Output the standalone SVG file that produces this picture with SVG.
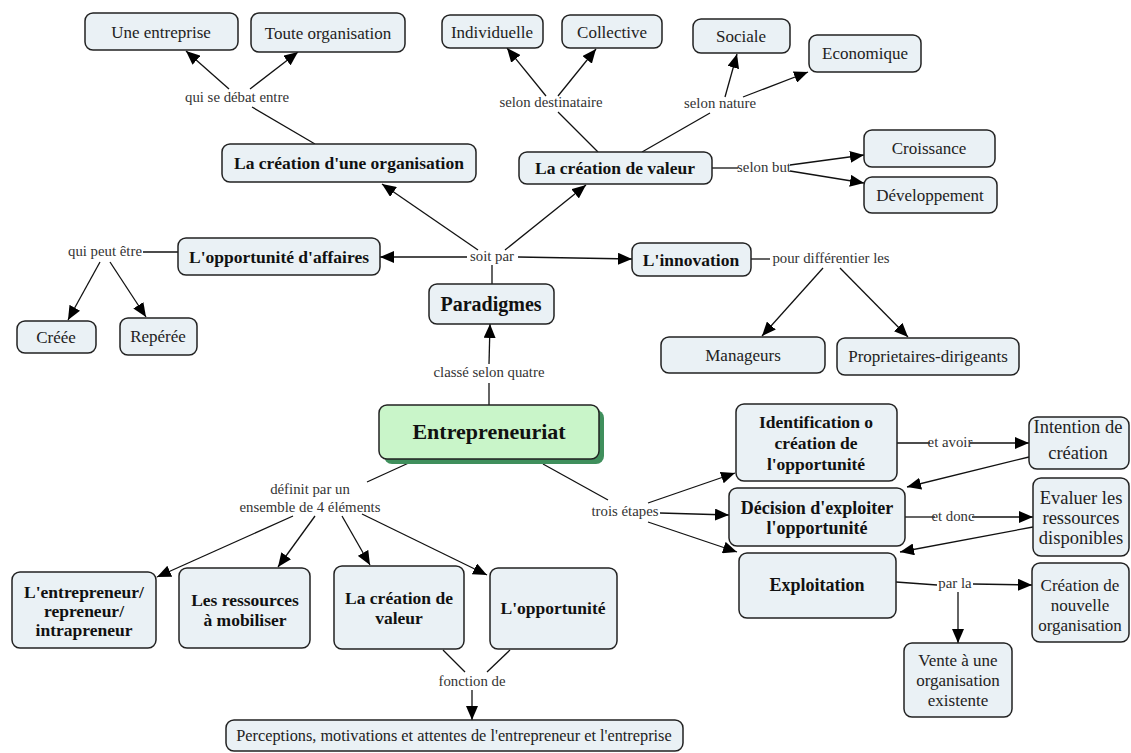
<svg xmlns="http://www.w3.org/2000/svg" width="1131" height="753" viewBox="0 0 1131 753">
<defs>
<marker id="arr" markerUnits="userSpaceOnUse" markerWidth="15" markerHeight="12" refX="14" refY="6" orient="auto">
<path d="M0,0 L14,6 L0,12 z" fill="#000"/>
</marker>
<style>
.n rect{fill:#eaf1f5;stroke:#222;stroke-width:1.5}
.n text{font-family:"Liberation Serif","DejaVu Serif",serif;font-size:17px;fill:#222;text-anchor:middle}
.b text{font-weight:bold;font-size:17.5px;fill:#111}
.lbl{font-family:"Liberation Serif","DejaVu Serif",serif;font-size:14.8px;fill:#333;text-anchor:middle}
#connectors line{stroke:#111;stroke-width:1.3}
#connectors line.a{marker-end:url(#arr)}
</style>
</defs>
<rect width="1131" height="753" fill="#fff"/>

<g id="connectors">
<line x1="252" y1="107" x2="315" y2="144"/>
<line class="a" x1="229" y1="89" x2="186" y2="51"/>
<line class="a" x1="250" y1="89" x2="298" y2="52"/>
<line x1="598" y1="152" x2="558" y2="112"/>
<line class="a" x1="546" y1="96" x2="507" y2="48"/>
<line class="a" x1="558" y1="96" x2="596" y2="49"/>
<line x1="642" y1="152" x2="710" y2="113"/>
<line class="a" x1="725" y1="97" x2="737" y2="54"/>
<line class="a" x1="743" y1="97" x2="808" y2="72"/>
<line x1="712" y1="168" x2="738" y2="168"/>
<line class="a" x1="790" y1="165" x2="864" y2="155"/>
<line class="a" x1="790" y1="171" x2="864" y2="183"/>
<line x1="492" y1="265" x2="492" y2="284"/>
<line class="a" x1="478" y1="250" x2="382" y2="184"/>
<line class="a" x1="505" y1="250" x2="586" y2="185"/>
<line class="a" x1="467" y1="257" x2="380" y2="257"/>
<line class="a" x1="518" y1="257" x2="632" y2="259"/>
<line x1="143" y1="252" x2="178" y2="252"/>
<line class="a" x1="100" y1="262" x2="68" y2="320"/>
<line class="a" x1="110" y1="262" x2="146" y2="317"/>
<line x1="751" y1="259" x2="770" y2="259"/>
<line class="a" x1="823" y1="268" x2="762" y2="336"/>
<line class="a" x1="840" y1="268" x2="908" y2="337"/>
<line x1="489" y1="405" x2="489" y2="383"/>
<line class="a" x1="489" y1="364" x2="490" y2="324"/>
<line x1="413" y1="461" x2="367" y2="482"/>
<line class="a" x1="293" y1="516" x2="157" y2="577"/>
<line class="a" x1="315" y1="516" x2="278" y2="567"/>
<line class="a" x1="342" y1="516" x2="370" y2="565"/>
<line class="a" x1="362" y1="514" x2="487" y2="575"/>
<line x1="543" y1="464" x2="608" y2="500"/>
<line class="a" x1="648" y1="503" x2="735" y2="473"/>
<line class="a" x1="660" y1="513" x2="729" y2="515"/>
<line class="a" x1="648" y1="522" x2="737" y2="552"/>
<line x1="897" y1="443" x2="930" y2="443"/>
<line class="a" x1="970" y1="443" x2="1029" y2="443"/>
<line class="a" x1="1029" y1="457" x2="907" y2="487"/>
<line x1="905" y1="517" x2="935" y2="517"/>
<line class="a" x1="972" y1="517" x2="1033" y2="517"/>
<line class="a" x1="1033" y1="527" x2="900" y2="552"/>
<line x1="896" y1="582" x2="937" y2="585"/>
<line class="a" x1="973" y1="584" x2="1032" y2="585"/>
<line class="a" x1="958" y1="592" x2="958" y2="643"/>
<line x1="443" y1="650" x2="465" y2="672"/>
<line x1="510" y1="650" x2="487" y2="672"/>
<line class="a" x1="472" y1="690" x2="472" y2="720"/>
</g>

<g id="labels">
<text class="lbl" x="237" y="102">qui se débat entre</text>
<text class="lbl" x="551" y="107">selon destinataire</text>
<text class="lbl" x="720" y="108">selon nature</text>
<text class="lbl" x="764" y="172">selon but</text>
<text class="lbl" x="105" y="256">qui peut être</text>
<text class="lbl" x="492" y="261">soit par</text>
<text class="lbl" x="831" y="263">pour différentier les</text>
<text class="lbl" x="489" y="377">classé selon quatre</text>
<text class="lbl" x="310" y="494">définit par un</text>
<text class="lbl" x="310" y="512">ensemble de 4 éléments</text>
<text class="lbl" x="625" y="516">trois étapes</text>
<text class="lbl" x="950" y="447">et avoir</text>
<text class="lbl" x="953" y="521">et donc</text>
<text class="lbl" x="955" y="588">par la</text>
<text class="lbl" x="472" y="686">fonction de</text>
</g>

<g id="n-une" class="n"><rect x="85" y="13" width="153" height="37" rx="8"/><text x="161" y="38">Une entreprise</text></g>
<g id="n-toute" class="n"><rect x="251" y="13" width="154" height="39" rx="8"/><text x="328" y="39">Toute organisation</text></g>
<g id="n-indiv" class="n"><rect x="442" y="15" width="101" height="33" rx="8"/><text x="492" y="38">Individuelle</text></g>
<g id="n-collective" class="n"><rect x="562" y="15" width="100" height="33" rx="8"/><text x="612" y="38">Collective</text></g>
<g id="n-sociale" class="n"><rect x="693" y="19" width="97" height="34" rx="8"/><text x="741" y="42">Sociale</text></g>
<g id="n-economique" class="n"><rect x="809" y="35" width="112" height="37" rx="8"/><text x="865" y="59">Economique</text></g>
<g id="n-croissance" class="n"><rect x="864" y="130" width="131" height="37" rx="8"/><text x="929" y="154">Croissance</text></g>
<g id="n-developpement" class="n"><rect x="864" y="177" width="133" height="36" rx="8"/><text x="930" y="201">Développement</text></g>
<g id="n-creation-org" class="n b"><rect x="222" y="144" width="254" height="38" rx="8"/><text x="349" y="169">La création d'une organisation</text></g>
<g id="n-creation-val" class="n b"><rect x="519" y="152" width="193" height="32" rx="8"/><text x="615" y="174">La création de valeur</text></g>
<g id="n-opp-aff" class="n b"><rect x="178" y="238" width="202" height="37" rx="8"/><text x="279" y="263">L'opportunité d'affaires</text></g>
<g id="n-creee" class="n"><rect x="17" y="321" width="79" height="32" rx="8"/><text x="56" y="343">Créée</text></g>
<g id="n-reperee" class="n"><rect x="120" y="318" width="77" height="37" rx="8"/><text x="158" y="342">Repérée</text></g>
<g id="n-paradigmes" class="n b"><rect x="429" y="284" width="125" height="40" rx="8"/><text x="491" y="311" style="font-size:20px">Paradigmes</text></g>
<g id="n-innovation" class="n b"><rect x="632" y="243" width="119" height="33" rx="8"/><text x="691" y="266">L'innovation</text></g>
<g id="n-managers" class="n"><rect x="661" y="337" width="164" height="36" rx="8"/><text x="743" y="361">Manageurs</text></g>
<g id="n-proprio" class="n"><rect x="837" y="338" width="182" height="37" rx="8"/><text x="928" y="362">Proprietaires-dirigeants</text></g>
<g id="n-entrepreneuriat"><rect x="384" y="410" width="220" height="54" rx="8" fill="#3f8f5c"/><rect x="379" y="405" width="220" height="54" rx="8" fill="#c9f5c9" stroke="#222" stroke-width="1.5"/><text x="489" y="439" font-family="Liberation Serif, DejaVu Serif, serif" font-size="22" font-weight="bold" fill="#111" text-anchor="middle">Entrepreneuriat</text></g>
<g id="n-entrepreneur" class="n b"><rect x="12" y="572" width="144" height="76" rx="8"/><text x="84" y="598">L'entrepreneur/</text><text x="84" y="617">repreneur/</text><text x="84" y="636">intrapreneur</text></g>
<g id="n-ressources" class="n b"><rect x="179" y="568" width="131" height="80" rx="8"/><text x="245" y="606">Les ressources</text><text x="245" y="626">à mobiliser</text></g>
<g id="n-creation-val2" class="n b"><rect x="334" y="566" width="130" height="83" rx="8"/><text x="399" y="604">La création de</text><text x="399" y="624">valeur</text></g>
<g id="n-opportunite" class="n b"><rect x="490" y="568" width="127" height="81" rx="8"/><text x="553" y="614">L'opportunité</text></g>
<g id="n-perceptions" class="n"><rect x="226" y="720" width="457" height="31" rx="8"/><text x="454" y="741" style="font-size:16.3px">Perceptions, motivations et attentes de l'entrepreneur et l'entreprise</text></g>
<g id="n-identification" class="n b"><rect x="736" y="404" width="161" height="77" rx="8"/><text x="816" y="428">Identification o</text><text x="816" y="449">création de</text><text x="816" y="470">l'opportunité</text></g>
<g id="n-decision" class="n b"><rect x="729" y="488" width="176" height="58" rx="8"/><text x="817" y="514" style="font-size:18px">Décision d'exploiter</text><text x="817" y="534" style="font-size:18px">l'opportunité</text></g>
<g id="n-exploitation" class="n b"><rect x="739" y="553" width="157" height="65" rx="8"/><text x="817" y="591" style="font-size:18px">Exploitation</text></g>
<g id="n-intention" class="n"><rect x="1029" y="417" width="100" height="52" rx="8"/><text x="1078" y="433" style="font-size:18.5px">Intention de</text><text x="1078" y="459" style="font-size:18.5px">création</text></g>
<g id="n-evaluer" class="n"><rect x="1033" y="478" width="96" height="78" rx="8"/><text x="1081" y="504" style="font-size:18.5px">Evaluer les</text><text x="1081" y="524" style="font-size:18.5px">ressources</text><text x="1081" y="544" style="font-size:18.5px">disponibles</text></g>
<g id="n-creation-nouv" class="n"><rect x="1032" y="563" width="97" height="79" rx="8"/><text x="1080" y="591">Création de</text><text x="1080" y="611">nouvelle</text><text x="1080" y="631">organisation</text></g>
<g id="n-vente" class="n"><rect x="904" y="643" width="108" height="74" rx="8"/><text x="958" y="666">Vente à une</text><text x="958" y="686">organisation</text><text x="958" y="706">existente</text></g>
</svg>
